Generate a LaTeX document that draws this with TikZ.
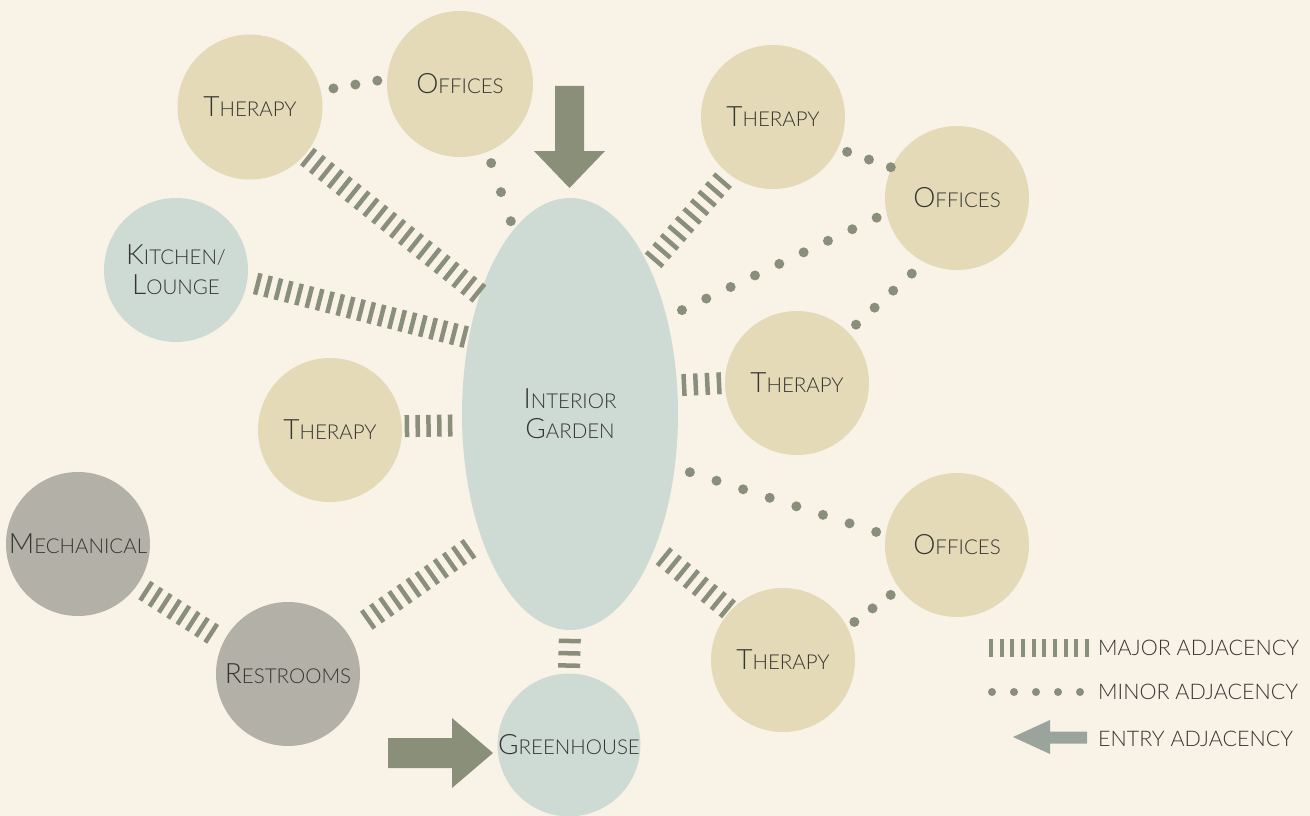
\documentclass[tikz,border=0pt]{standalone}
\usepackage{fontspec}
\setmainfont{Lato Light}
\usetikzlibrary{calc,shapes.geometric}

\definecolor{paper}{HTML}{F8F3E6}
\definecolor{sand}{HTML}{E4DAB7}
\definecolor{mist}{HTML}{CEDBD5}
\definecolor{stone}{HTML}{B3B0A7}
\definecolor{link}{HTML}{8A8F7B}
\definecolor{entry}{HTML}{8A8F79}
\definecolor{keyarrow}{HTML}{9BA49C}
\definecolor{ink}{HTML}{353532}

% large initial + smaller capitals
\newcommand\bigsmall[2]{{\fontsize{28}{30}\selectfont #1}{\fontsize{20.5}{30}\selectfont #2}}

\tikzset{
  room/.style={circle, minimum size=144pt, inner sep=0pt, outer sep=0pt,
    text=ink, align=center, font=\fontsize{20.5}{30}\selectfont},
  therapyroom/.style={room, fill=sand},
  serviceroom/.style={room, fill=stone},
  commonroom/.style={room, fill=mist},
  tickmark/.style={draw=link, line width=4.5pt},
  dotmark/.style={fill=link},
  keytext/.style={anchor=west, text=ink, inner sep=0pt, font=\fontsize{21.5}{22}\selectfont},
}

% major adjacency: #1 node, #2 anchor angle, #3 gap, #4 node, #5 anchor angle, #6 gap, #7 ticks
\newcommand\majorlink[7]{%
  \path ($(#1.#2)!#3!(#4.#5)$) coordinate (lnkS)
        ($(#4.#5)!#6!(#1.#2)$) coordinate (lnkE);
  \path ($(lnkS)!11pt!90:(lnkE)$) coordinate (lnkSa)
        ($(lnkS)!11pt!-90:(lnkE)$) coordinate (lnkSb)
        ($(lnkE)!11pt!-90:(lnkS)$) coordinate (lnkEa)
        ($(lnkE)!11pt!90:(lnkS)$) coordinate (lnkEb);
  \pgfmathtruncatemacro\lnkLast{#7-1}%
  \foreach \k in {0,...,\lnkLast}{
    \draw[tickmark] ($(lnkSa)!\k/\lnkLast!(lnkEa)$) -- ($(lnkSb)!\k/\lnkLast!(lnkEb)$);
  }}

% minor adjacency: same arguments, #7 dots
\newcommand\minorlink[7]{%
  \path ($(#1.#2)!#3!(#4.#5)$) coordinate (lnkS)
        ($(#4.#5)!#6!(#1.#2)$) coordinate (lnkE);
  \pgfmathtruncatemacro\lnkLast{#7-1}%
  \foreach \k in {0,...,\lnkLast}{
    \fill[dotmark] ($(lnkS)!\k/\lnkLast!(lnkE)$) circle (5pt);
  }}

\begin{document}
\begin{tikzpicture}[x=1pt, y=-1pt]
  \useasboundingbox (0,0) rectangle (1310,816);
  \fill[paper] (0,0) rectangle (1310,816);

  % rooms
  \node[commonroom, ellipse, minimum width=216pt, minimum height=432pt] (garden) at (570,414)
    {\bigsmall{I}{NTERIOR}\\\bigsmall{G}{ARDEN}};
  \node[commonroom, minimum size=142pt] (green) at (569,745) {\bigsmall{G}{REENHOUSE}};
  \node[commonroom] (kit) at (176,270) {\bigsmall{K}{ITCHEN/}\\\bigsmall{L}{OUNGE}};
  \node[therapyroom, minimum size=145pt] (thTL) at (250,107) {\bigsmall{T}{HERAPY}};
  \node[therapyroom, minimum size=146pt] (ofT) at (460,84) {\bigsmall{O}{FFICES}};
  \node[therapyroom] (thML) at (330,430) {\bigsmall{T}{HERAPY}};
  \node[serviceroom] (mech) at (78,544) {\bigsmall{M}{ECHANICAL}};
  \node[serviceroom] (rest) at (288,674) {\bigsmall{R}{ESTROOMS}};
  \node[therapyroom] (thTR) at (773,117) {\bigsmall{T}{HERAPY}};
  \node[therapyroom] (ofRT) at (957,198) {\bigsmall{O}{FFICES}};
  \node[therapyroom] (thRM) at (797,383) {\bigsmall{T}{HERAPY}};
  \node[therapyroom] (ofRB) at (957,545) {\bigsmall{O}{FFICES}};
  \node[therapyroom] (thRB) at (783,660) {\bigsmall{T}{HERAPY}};

  % major adjacencies
  \majorlink{thTL}{-41}{5pt}{garden}{127}{3pt}{20}
  \majorlink{kit}{-9}{11pt}{garden}{143}{5pt}{21}
  \majorlink{thML}{3}{5pt}{garden}{186}{12pt}{5}
  \majorlink{thRM}{180}{6pt}{garden}{15}{7pt}{4}
  \majorlink{thTR}{232}{10pt}{garden}{62}{9pt}{10}
  \majorlink{thRB}{137}{4pt}{garden}{-58}{13pt}{8}
  \majorlink{rest}{34}{25pt}{garden}{235}{17pt}{12}
  \majorlink{mech}{-35}{11pt}{rest}{153}{15pt}{8}
  \majorlink{garden}{270}{11pt}{green}{90}{8pt}{3}

  % minor adjacencies
  \minorlink{thTL}{13}{13pt}{ofT}{176}{10pt}{3}
  \minorlink{ofT}{-68}{12pt}{garden}{107}{9pt}{3}
  \minorlink{thTR}{-26}{10pt}{ofRT}{155}{1pt}{3}
  \minorlink{ofRT}{192}{11pt}{garden}{45}{17pt}{9}
  \minorlink{ofRT}{243}{17pt}{thRM}{45}{11pt}{4}
  \minorlink{garden}{-27}{16pt}{ofRB}{172}{10pt}{8}
  \minorlink{thRB}{27}{9pt}{ofRB}{217}{11pt}{3}

  % entry arrows
  \fill[entry] (555,86) -- (584,86) -- (584,151) -- (605,151) -- (569.5,188)
    -- (534,151) -- (555,151) -- cycle;
  \fill[entry] (388,738) -- (452,738) -- (452,718) -- (493,753) -- (452,788)
    -- (452,768) -- (388,768) -- cycle;

  % key
  \foreach \i in {0,...,9}
    \draw[tickmark, line width=4pt] (991+\i*10.67,639) -- ++(0,18);
  \foreach \i in {0,...,4}
    \fill[dotmark] (992+\i*22,692) circle (4pt);
  \fill[keyarrow] (1013,737) -- (1050,720) -- (1050,731.5) -- (1087,731.5)
    -- (1087,743.5) -- (1050,743.5) -- (1050,754) -- cycle;
  \node[keytext] (kmajor) at (1098,648) {MAJOR ADJACENCY};
  \node[keytext] (kminor) at (1098,692) {MINOR ADJACENCY};
  \node[keytext] (kentry) at (1098,739) {ENTRY ADJACENCY};
\end{tikzpicture}
\end{document}
